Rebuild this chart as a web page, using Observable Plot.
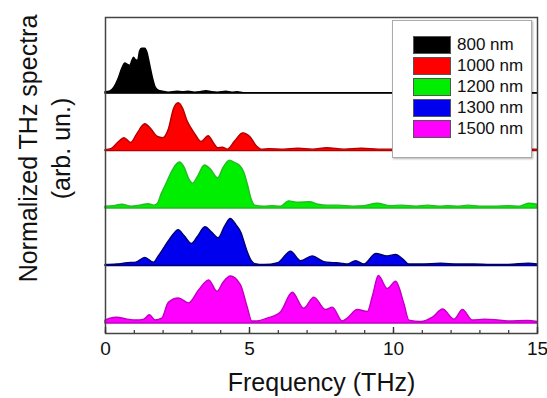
<!DOCTYPE html>
<html><head><meta charset="utf-8">
<script src="https://cdn.jsdelivr.net/npm/d3@7"></script>
<script src="https://cdn.jsdelivr.net/npm/@observablehq/plot@0.6"></script>
<style>
body{margin:0;background:#fff;font-family:"Liberation Sans",Arial,sans-serif}
#wrap{position:relative;width:547px;height:398px}
#legend{position:absolute;left:392px;top:20px;width:138px;height:136px;border:1px solid #aaa;background:#fff;box-shadow:1px 1px 2px rgba(0,0,0,.3)}
.item{position:absolute;left:20px;height:18px;display:flex;align-items:center;font-size:17px;color:#111;white-space:nowrap}
.sw{width:36px;height:16px;border:1px solid #555;margin-right:6px}
</style></head><body><div id="wrap"><div id="legend"></div></div>
<script>
// ---- data ----
const seriesNames = ["800 nm", "1000 nm", "1200 nm", "1300 nm", "1500 nm"];

const freq800 = [0, 0.15, 0.3, 0.45, 0.58, 0.69, 0.78, 0.86, 0.93, 0.99, 1.06, 1.13, 1.2, 1.27, 1.38, 1.46, 1.55, 1.65, 1.75, 1.85, 2.0, 2.2, 2.5, 2.7, 2.9, 3.1, 3.3, 3.5, 3.7, 3.9, 4.2, 4.4, 4.6, 4.8, 5.5, 7, 9, 11, 13, 15];
const amp800  = [0.03, 0.04, 0.12, 0.3, 0.52, 0.63, 0.6, 0.58, 0.68, 0.75, 0.7, 0.68, 0.88, 0.94, 0.94, 0.85, 0.6, 0.32, 0.12, 0.06, 0.04, 0.02, 0.04, 0.03, 0.04, 0.02, 0.03, 0.05, 0.03, 0.02, 0.04, 0.02, 0.03, 0.01, 0.01, 0.01, 0.01, 0.01, 0.01, 0.01];

const freq1000 = [0, 0.2, 0.45, 0.66, 0.89, 1.1, 1.38, 1.6, 1.8, 2.0, 2.2, 2.38, 2.54, 2.7, 2.85, 2.98, 3.15, 3.33, 3.58, 3.78, 3.91, 4.07, 4.25, 4.5, 4.78, 5.05, 5.25, 5.42, 5.7, 6.2, 6.7, 7.2, 7.7, 8.3, 8.9, 9.5, 10.5, 12, 13.5, 15];
const amp1000  = [0.02, 0.04, 0.18, 0.27, 0.17, 0.35, 0.56, 0.45, 0.3, 0.27, 0.45, 0.88, 1.0, 0.88, 0.62, 0.48, 0.32, 0.19, 0.31, 0.15, 0.06, 0.07, 0.03, 0.2, 0.37, 0.28, 0.1, 0.03, 0.04, 0.03, 0.05, 0.03, 0.06, 0.03, 0.05, 0.03, 0.03, 0.03, 0.03, 0.03];

const freq1200 = [0, 0.3, 0.58, 0.9, 1.2, 1.5, 1.7, 1.82, 1.95, 2.11, 2.3, 2.45, 2.58, 2.75, 2.9, 3.04, 3.2, 3.45, 3.65, 3.91, 4.1, 4.32, 4.5, 4.66, 4.82, 4.95, 5.08, 5.2, 5.5, 5.8, 6.1, 6.37, 6.7, 7.1, 7.4, 7.7, 8.1, 8.6, 9.0, 9.45, 9.9, 10.3, 10.8, 11.2, 11.6, 11.9, 12.3, 12.6, 13.0, 13.5, 14.0, 14.4, 14.7, 15];
const amp1200  = [0.04, 0.05, 0.08, 0.04, 0.06, 0.09, 0.06, 0.1, 0.3, 0.5, 0.75, 0.9, 0.96, 0.85, 0.62, 0.52, 0.65, 0.9, 0.82, 0.63, 0.85, 1.0, 0.95, 0.9, 0.75, 0.48, 0.18, 0.06, 0.04, 0.05, 0.04, 0.15, 0.12, 0.13, 0.08, 0.06, 0.06, 0.04, 0.05, 0.1, 0.05, 0.06, 0.04, 0.06, 0.04, 0.05, 0.04, 0.06, 0.04, 0.04, 0.05, 0.04, 0.1, 0.08];

const freq1300 = [0, 0.4, 0.78, 1.07, 1.38, 1.68, 1.85, 2.05, 2.3, 2.54, 2.75, 3.0, 3.2, 3.47, 3.7, 3.93, 4.15, 4.35, 4.55, 4.72, 4.85, 4.95, 5.08, 5.19, 5.53, 6.0, 6.44, 6.79, 7.19, 7.6, 7.9, 8.18, 8.41, 8.7, 8.99, 9.4, 9.8, 10.09, 10.37, 10.55, 11.0, 11.66, 12.2, 12.8, 13.4, 14.0, 14.7, 15];
const amp1300  = [0.02, 0.03, 0.06, 0.07, 0.17, 0.07, 0.2, 0.38, 0.6, 0.75, 0.62, 0.46, 0.6, 0.81, 0.7, 0.58, 0.82, 0.98, 0.85, 0.69, 0.45, 0.27, 0.1, 0.04, 0.02, 0.06, 0.3, 0.1, 0.2, 0.08, 0.06, 0.05, 0.03, 0.1, 0.03, 0.25, 0.2, 0.23, 0.12, 0.03, 0.03, 0.05, 0.03, 0.03, 0.02, 0.02, 0.05, 0.03];

const freq1500 = [0, 0.17, 0.41, 0.76, 1.1, 1.35, 1.54, 1.74, 1.97, 2.2, 2.55, 2.9, 3.25, 3.6, 3.89, 4.1, 4.35, 4.7, 4.93, 5.1, 5.28, 5.63, 6.09, 6.5, 6.9, 7.25, 7.66, 7.89, 8.24, 8.41, 8.76, 9.11, 9.3, 9.49, 9.8, 10.09, 10.38, 10.55, 10.96, 11.37, 11.72, 12.12, 12.41, 12.76, 13.17, 13.52, 13.98, 14.68, 15];
const amp1500  = [0.06, 0.1, 0.12, 0.08, 0.06, 0.08, 0.17, 0.06, 0.1, 0.43, 0.52, 0.42, 0.69, 0.9, 0.66, 0.85, 0.98, 0.8, 0.35, 0.04, 0.04, 0.1, 0.23, 0.64, 0.31, 0.54, 0.28, 0.33, 0.04, 0.1, 0.28, 0.24, 0.6, 0.99, 0.72, 0.87, 0.4, 0.06, 0.03, 0.12, 0.29, 0.08, 0.28, 0.06, 0.08, 0.07, 0.04, 0.05, 0.03];

const xTicksMajor = [0, 5, 10, 15];
const xTicksMinor = [0, 1, 2, 3, 4, 5, 6, 7, 8, 9, 10, 11, 12, 13, 14, 15];
const xLabel = "Frequency (THz)";
const yLabel = "Normalized THz spectra\n(arb. un.)";

// ---- styles ----
const fills   = ["#000000", "#ff0000", "#00ee00", "#0000ee", "#ff00ff"];
const strokes = ["#000000", "#b00000", "#22bb22", "#000070", "#c000c0"];
const spacing = 1.2;

const freqs = [freq800, freq1000, freq1200, freq1300, freq1500];
const amps  = [amp800, amp1000, amp1200, amp1300, amp1500];

const marks = [];
seriesNames.forEach((name, i) => {
  const base = (seriesNames.length - 1 - i) * spacing;
  const data = freqs[i].map((f, j) => ({f, base, top: base + amps[i][j]}));
  marks.push(Plot.areaY(data, {x: "f", y1: "base", y2: "top", fill: fills[i], stroke: strokes[i], strokeWidth: 1.4, curve: "monotone-x"}));
});

marks.push(Plot.frame({stroke: "#444", strokeWidth: 1.5}));
marks.push(Plot.axisX({ticks: xTicksMinor, tickSize: 3, dy: -3, fill: "none", stroke: "#333", strokeWidth: 1.2, label: null}));
marks.push(Plot.axisX({ticks: xTicksMajor, tickSize: 6, dy: -6, fill: "none", stroke: "#333", strokeWidth: 1.4, label: null}));
marks.push(Plot.axisX({ticks: xTicksMajor, tickSize: 0, tickPadding: 8, fontSize: 19, fill: "#111", label: null, tickFormat: d => String(d)}));
marks.push(Plot.text([xLabel], {text: d => d, frameAnchor: "bottom", dy: 49, fontSize: 25, fill: "#111", lineAnchor: "middle"}));
marks.push(Plot.text([yLabel], {text: d => d, frameAnchor: "left", dx: -63, dy: -27, rotate: -90, fontSize: 25, lineHeight: 1.32, fill: "#111", textAnchor: "middle", lineAnchor: "middle"}));

const chart = Plot.plot({
  width: 547, height: 398,
  marginLeft: 105, marginRight: 10, marginTop: 17, marginBottom: 65,
  style: {fontFamily: "'Liberation Sans', Arial, sans-serif", background: "#fff"},
  x: {domain: [0, 15], axis: null},
  y: {domain: [-0.21, 6.39], axis: null},
  marks
});
const wrap = document.getElementById("wrap");
wrap.insertBefore(chart, wrap.firstChild);

const legend = document.getElementById("legend");
seriesNames.forEach((name, i) => {
  const it = document.createElement("div");
  it.className = "item";
  it.style.top = (15 + 21 * i) + "px";
  it.innerHTML = `<span class="sw" style="background:${fills[i]}"></span><span>${name}</span>`;
  legend.appendChild(it);
});
</script>
</body></html>
